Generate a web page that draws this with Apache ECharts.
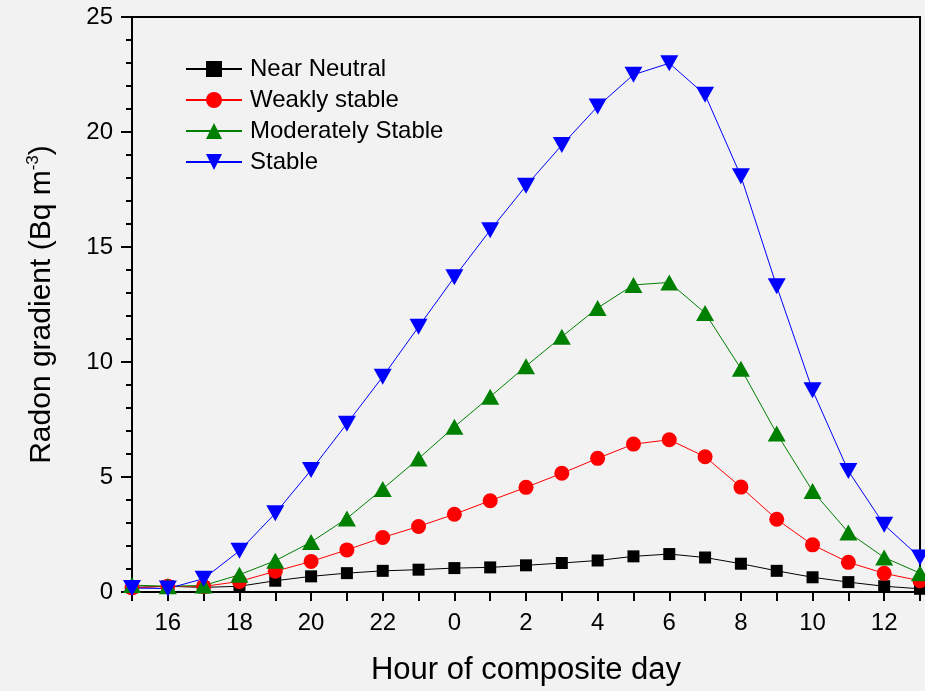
<!DOCTYPE html>
<html>
<head>
<meta charset="utf-8">
<script src="https://cdn.jsdelivr.net/npm/echarts@6/dist/echarts.min.js"></script>
<style>
html,body{margin:0;padding:0;background:#f2f2f2;}
#c{width:925px;height:691px;}
</style>
</head>
<body>
<div id="c"></div>
<script>
var hours = ['15','16','17','18','19','20','21','22','23','0','1','2','3','4','5','6','7','8','9','10','11','12','13'];
var nearNeutral = [0.20,0.25,0.20,0.25,0.49,0.68,0.82,0.92,0.97,1.04,1.07,1.16,1.26,1.37,1.55,1.65,1.50,1.23,0.92,0.64,0.43,0.25,0.14];
var weaklyStable = [0.18,0.25,0.24,0.46,0.90,1.33,1.83,2.37,2.85,3.38,3.97,4.55,5.16,5.81,6.43,6.62,5.88,4.56,3.16,2.05,1.29,0.81,0.49];
var moderatelyStable = [0.30,0.25,0.28,0.75,1.36,2.17,3.20,4.48,5.80,7.18,8.49,9.82,11.10,12.35,13.35,13.46,12.13,9.71,6.89,4.39,2.59,1.50,0.82];
var stable = [0.17,0.15,0.58,1.79,3.42,5.30,7.32,9.36,11.53,13.69,15.73,17.66,19.43,21.11,22.49,22.99,21.62,18.08,13.29,8.77,5.26,2.92,1.50];
var seriesNames = ['Near Neutral','Weakly stable','Moderately Stable','Stable'];

var chart = echarts.init(document.getElementById('c'), null, {renderer:'canvas'});
var font = 'Liberation Sans, Arial, sans-serif';
function mk(name, data, color, symbol, size, rot) {
  return {
    name: name, type: 'line', data: data,
    symbol: symbol, symbolSize: size, symbolRotate: rot || 0,
    showSymbol: true,
    lineStyle: {color: color, width: 1},
    itemStyle: {color: color},
    animation: false
  };
}
chart.setOption({
  backgroundColor: '#f2f2f2',
  animation: false,
  grid: {left: 132, right: 5, top: 17, bottom: 97, show: true, borderColor: '#000', borderWidth: 2, backgroundColor: 'transparent'},
  legend: {
    left: 180, top: 52, orient: 'vertical', itemGap: 7,
    itemWidth: 56, itemHeight: 20,
    textStyle: {fontFamily: font, fontSize: 24, color: '#000', padding: [0, 0, 0, 3]},
    data: seriesNames
  },
  xAxis: {
    type: 'category', data: hours, boundaryGap: false,
    name: 'Hour of composite day', nameLocation: 'middle', nameGap: 63,
    nameTextStyle: {fontFamily: font, fontSize: 31, color: '#000'},
    axisLine: {lineStyle: {color: '#000', width: 2}},
    axisTick: {show: true, interval: 0, length: 9, lineStyle: {color: '#000', width: 2}},
    axisLabel: {
      interval: function (i) { return i % 2 === 1; },
      fontFamily: font, fontSize: 24, color: '#000', margin: 19
    },
    splitLine: {show: false}
  },
  yAxis: {
    type: 'value', min: 0, max: 25, interval: 5,
    name: 'Radon gradient (Bq m{sup|-3})', nameLocation: 'middle', nameGap: 74, nameRotate: 90,
    nameTextStyle: {fontFamily: font, fontSize: 30, color: '#000',
      rich: {sup: {fontFamily: font, fontSize: 17, color: '#000', verticalAlign: 'top', padding: [0, 0, 16, 0]}}},
    axisLine: {show: true, lineStyle: {color: '#000', width: 2}},
    axisTick: {show: true, length: 11, lineStyle: {color: '#000', width: 2}},
    minorTick: {show: true, splitNumber: 5, length: 6, lineStyle: {color: '#000', width: 2}},
    axisLabel: {fontFamily: font, fontSize: 24, color: '#000', margin: 19},
    splitLine: {show: false}
  },
  series: [
    mk(seriesNames[0], nearNeutral, '#000000', 'rect', 12),
    mk(seriesNames[1], weaklyStable, '#ff0000', 'circle', 15),
    mk(seriesNames[2], moderatelyStable, '#008000', 'triangle', [18, 16]),
    mk(seriesNames[3], stable, '#0000ff', 'triangle', [18, 16], 180)
  ]
});
</script>
</body>
</html>
